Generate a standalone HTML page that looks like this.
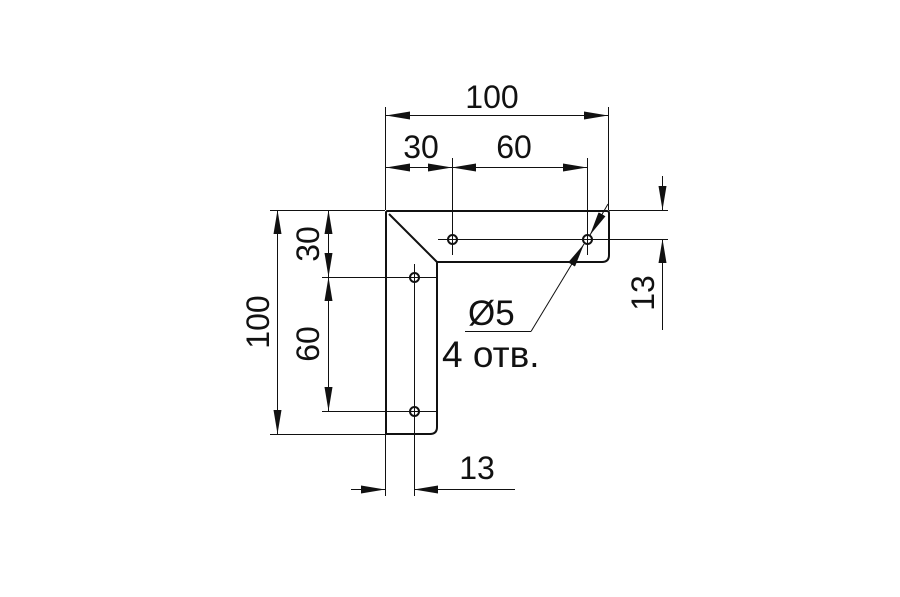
<!DOCTYPE html>
<html><head><meta charset="utf-8"><style>
html,body{margin:0;padding:0;background:#fff;}
svg{display:block;}
text{font-family:"Liberation Sans",sans-serif;fill:#111;}
</style></head><body>
<svg width="900" height="597" viewBox="0 0 900 597" xmlns="http://www.w3.org/2000/svg">
<defs>
<marker id="a" viewBox="0 0 24 8" refX="24" refY="4" markerWidth="24" markerHeight="8" markerUnits="userSpaceOnUse" orient="auto-start-reverse">
<path d="M0,0 L24,4 L0,8 Z" fill="#111"/></marker>
</defs>
<g stroke="#111" stroke-width="1" fill="none">
<line x1="385.5" y1="107" x2="385.5" y2="210"/>
<line x1="608.5" y1="107" x2="608.5" y2="210"/>
<line x1="452.5" y1="158" x2="452.5" y2="255"/>
<line x1="587.5" y1="158" x2="587.5" y2="255"/>
<line x1="270" y1="210.5" x2="385" y2="210.5"/>
<line x1="270" y1="434.5" x2="385" y2="434.5"/>
<line x1="322" y1="277.5" x2="436" y2="277.5"/>
<line x1="322" y1="411.5" x2="436" y2="411.5"/>
<line x1="609" y1="210.5" x2="668" y2="210.5"/>
<line x1="438" y1="239.5" x2="668" y2="239.5"/>
<line x1="385.5" y1="434" x2="385.5" y2="496"/>
<line x1="414.5" y1="264" x2="414.5" y2="496"/>
<line x1="386" y1="115.5" x2="608" y2="115.5" marker-start="url(#a)" marker-end="url(#a)"/>
<line x1="386" y1="167.5" x2="452" y2="167.5" marker-start="url(#a)" marker-end="url(#a)"/>
<line x1="452" y1="167.5" x2="587" y2="167.5" marker-start="url(#a)" marker-end="url(#a)"/>
<line x1="277.5" y1="210" x2="277.5" y2="434" marker-start="url(#a)" marker-end="url(#a)"/>
<line x1="328.5" y1="210" x2="328.5" y2="277" marker-start="url(#a)" marker-end="url(#a)"/>
<line x1="328.5" y1="277" x2="328.5" y2="411" marker-start="url(#a)" marker-end="url(#a)"/>
<line x1="662.5" y1="176" x2="662.5" y2="210" marker-end="url(#a)"/>
<line x1="662.5" y1="330" x2="662.5" y2="239" marker-end="url(#a)"/>
<line x1="351" y1="489.5" x2="385" y2="489.5" marker-end="url(#a)"/>
<line x1="515" y1="489.5" x2="414" y2="489.5" marker-end="url(#a)"/>
<line x1="465" y1="331.5" x2="531" y2="331.5"/>
<line x1="531" y1="331.5" x2="584" y2="244" marker-end="url(#a)"/>
<line x1="608" y1="204" x2="590" y2="235" marker-end="url(#a)"/>
</g>
<g stroke="#111" stroke-width="2" fill="none">
<path d="M387,211 L607,211 Q609,211 609,213 L609,255 Q609,262 602,262 L437,262 L437,427 Q437,434 430,434 L386,434 L386,212 Z"/>
<line x1="389" y1="214" x2="437" y2="262"/>
<circle cx="452.5" cy="239.5" r="4.5"/>
<circle cx="587.5" cy="239.5" r="4.5"/>
<circle cx="414.5" cy="277.5" r="4.5"/>
<circle cx="414.5" cy="411.5" r="4.5"/>
</g>
<g font-size="32">
<text x="492" y="108" text-anchor="middle">100</text>
<text x="421" y="158" text-anchor="middle">30</text>
<text x="514" y="158" text-anchor="middle">60</text>
<text x="477" y="479" text-anchor="middle">13</text>
<text x="468" y="325" font-size="35">Ø5</text>
<text x="442" y="367" font-size="37">4 отв.</text>
<text transform="translate(269,322) rotate(-90)" text-anchor="middle">100</text>
<text transform="translate(319,244) rotate(-90)" text-anchor="middle">30</text>
<text transform="translate(319,344) rotate(-90)" text-anchor="middle">60</text>
<text transform="translate(654,293) rotate(-90)" text-anchor="middle">13</text>
</g>
</svg>
</body></html>
